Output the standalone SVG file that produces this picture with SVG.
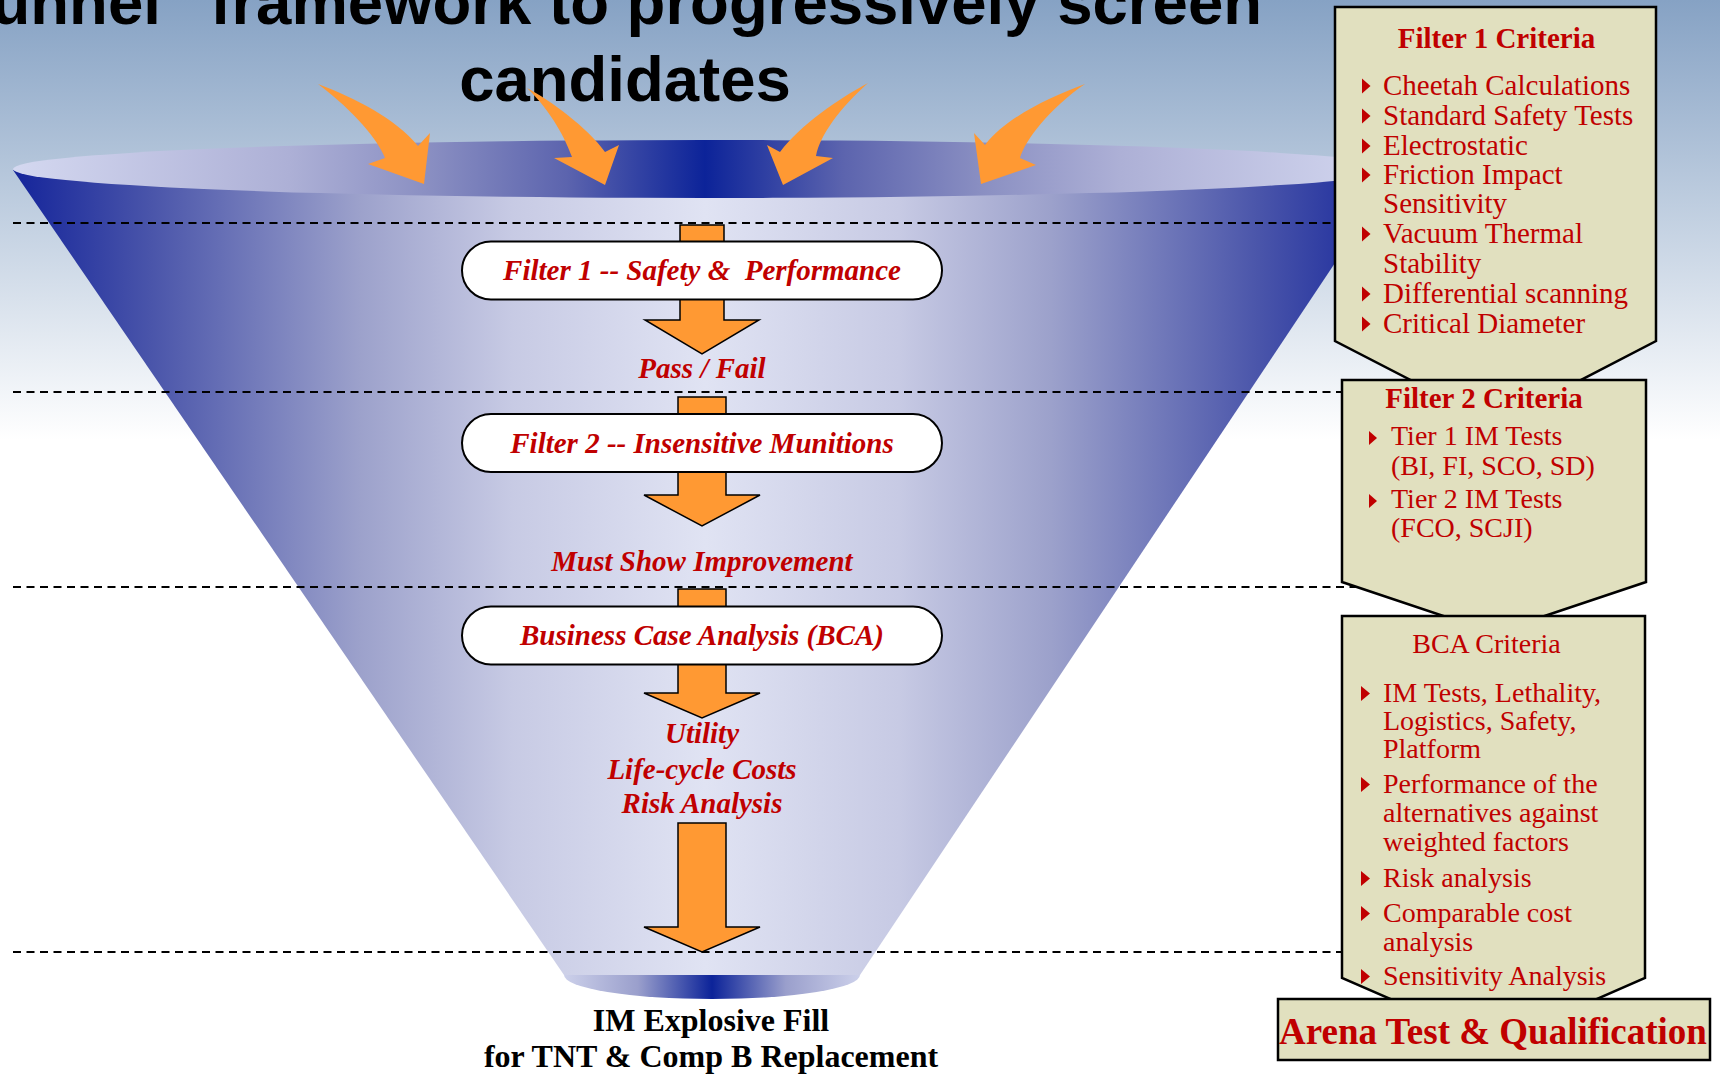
<svg xmlns="http://www.w3.org/2000/svg" width="1720" height="1077" viewBox="0 0 1720 1077">
<defs>
<linearGradient id="bg" x1="0" y1="0" x2="0" y2="440" gradientUnits="userSpaceOnUse">
<stop offset="0" stop-color="#86a2c4"/>
<stop offset="1" stop-color="#ffffff"/>
</linearGradient>
<linearGradient id="body" x1="13" y1="0" x2="1397" y2="0" gradientUnits="userSpaceOnUse">
<stop offset="0" stop-color="#14249a"/>
<stop offset="0.1" stop-color="#4a55aa"/>
<stop offset="0.25" stop-color="#9ca1cb"/>
<stop offset="0.36" stop-color="#c7cae4"/>
<stop offset="0.5" stop-color="#e0e3f3"/>
<stop offset="0.64" stop-color="#c7cae4"/>
<stop offset="0.75" stop-color="#9ca1cb"/>
<stop offset="0.9" stop-color="#4a55aa"/>
<stop offset="1" stop-color="#14249a"/>
</linearGradient>
<linearGradient id="rim" x1="13" y1="0" x2="1397" y2="0" gradientUnits="userSpaceOnUse">
<stop offset="0" stop-color="#d4d8f0"/>
<stop offset="0.2" stop-color="#adb0d6"/>
<stop offset="0.3" stop-color="#8a8fc2"/>
<stop offset="0.4" stop-color="#5c64ae"/>
<stop offset="0.5" stop-color="#0c2399"/>
<stop offset="0.6" stop-color="#5c64ae"/>
<stop offset="0.7" stop-color="#8a8fc2"/>
<stop offset="0.8" stop-color="#adb0d6"/>
<stop offset="1" stop-color="#d4d8f0"/>
</linearGradient>
<linearGradient id="base" x1="564" y1="0" x2="860" y2="0" gradientUnits="userSpaceOnUse">
<stop offset="0" stop-color="#ccd0ea"/>
<stop offset="0.25" stop-color="#9a9fcc"/>
<stop offset="0.5" stop-color="#0c2399"/>
<stop offset="0.75" stop-color="#9a9fcc"/>
<stop offset="1" stop-color="#ccd0ea"/>
</linearGradient>
<style>
.serif { font-family: "Liberation Serif", "Times New Roman", serif; }
.red { fill: #C00000; }
.bi { font-weight: bold; font-style: italic; font-size: 29px; }
.crit { font-size: 28px; }
.crit1 { font-size: 29px; }
.head { font-weight: bold; font-size: 29px; }
.box { fill: #E1E0BF; stroke: #000; stroke-width: 2.5; stroke-linejoin: miter; }
.pill { fill: #fff; stroke: #000; stroke-width: 2; }
.blk { fill: #FF9933; stroke: #000; stroke-width: 1.5; }
.curv { fill: #FF9933; }
.dash { stroke: #000; stroke-width: 2; stroke-dasharray: 8 5.5; fill: none; }
.bul { fill: #C00000; }
.title { font-family: "Liberation Sans", Arial, sans-serif; font-weight: bold; font-size: 63.5px; fill: #000; }
.out { font-family: "Liberation Serif", "Times New Roman", serif; font-weight: bold; font-size: 32px; fill: #000; }
</style>
</defs>

<rect x="0" y="0" width="1720" height="1077" fill="url(#bg)"/>

<g id="funnel">
<path d="M13,170 L564,975 L860,975 L1397,170 Z" fill="url(#body)"/>
<path d="M564,975 A148,24 0 0 0 860,975 Z" fill="url(#base)"/>
<ellipse cx="705" cy="169" rx="692" ry="29" fill="url(#rim)"/>
</g>

<g id="title">
<text class="title" x="1262" y="24" text-anchor="end">“Funnel” framework to progressively screen</text>
<text class="title" x="625" y="101" text-anchor="middle">candidates</text>
</g>

<g id="inputs">
<path class="curv" d="M318,84 C355,98 395,118 418,146 L430,133 L424,184 L368,164 L385,158 C378,140 355,112 318,84 Z"/>
<path class="curv" d="M527,88 C550,100 588,128 605,152 L619,145 L605,185 L554,158 L572,157 C566,140 552,112 527,88 Z"/>
<path class="curv" d="M868,83 C840,98 800,125 780,152 L767,145 L783,185 L833,158 L816,156 C820,135 840,108 868,83 Z"/>
<path class="curv" d="M1085,84 C1050,97 1005,118 985,145 L974,133 L981,184 L1036,165 L1020,158 C1025,140 1050,108 1085,84 Z"/>
</g>

<g id="stage-lines">
<line class="dash" x1="13" y1="223" x2="1400" y2="223"/>
<line class="dash" x1="13" y1="392" x2="1400" y2="392"/>
<line class="dash" x1="13" y1="587" x2="1400" y2="587"/>
<line class="dash" x1="13" y1="952" x2="1400" y2="952"/>
</g>

<g id="connectors">
<path class="blk" d="M680,225 L724,225 L724,320 L759,320 L702,354 L645,320 L680,320 Z"/>
<path class="blk" d="M678,397 L726,397 L726,495 L760,495 L702,526 L644,495 L678,495 Z"/>
<path class="blk" d="M678,589 L726,589 L726,693 L760,693 L702,718 L644,693 L678,693 Z"/>
<path class="blk" d="M678,823 L726,823 L726,927 L760,927 L702,952 L644,927 L678,927 Z"/>
</g>

<g id="filter1">
<rect class="pill" x="462" y="241.5" width="480" height="58" rx="29"/>
<text class="serif red bi" x="702" y="280" text-anchor="middle" xml:space="preserve">Filter 1 -- Safety &amp;  Performance</text>
</g>
<g id="passfail">
<text class="serif red bi" x="702" y="378" text-anchor="middle">Pass / Fail</text>
</g>
<g id="filter2">
<rect class="pill" x="462" y="414" width="480" height="58" rx="29"/>
<text class="serif red bi" x="702" y="453" text-anchor="middle">Filter 2 -- Insensitive Munitions</text>
</g>
<g id="improvement">
<text class="serif red bi" x="702" y="571" text-anchor="middle">Must Show Improvement</text>
</g>
<g id="bca">
<rect class="pill" x="462" y="606.5" width="480" height="58" rx="29"/>
<text class="serif red bi" x="702" y="645" text-anchor="middle">Business Case Analysis (BCA)</text>
</g>
<g id="bca-outputs">
<text class="serif red bi" x="702" y="743" text-anchor="middle">Utility</text>
<text class="serif red bi" x="702" y="779" text-anchor="middle">Life-cycle Costs</text>
<text class="serif red bi" x="702" y="813" text-anchor="middle">Risk Analysis</text>
</g>
<g id="result">
<text class="out" x="711" y="1031" text-anchor="middle">IM Explosive Fill</text>
<text class="out" x="711" y="1067" text-anchor="middle">for TNT &amp; Comp B Replacement</text>
</g>

<g id="filter1-criteria">
<path class="box" d="M1335,7 L1656,7 L1656,341 L1496,424 L1335,341 Z"/>
<text class="serif red head" x="1496.5" y="48" text-anchor="middle">Filter 1 Criteria</text>
<g class="bul">
<polygon points="1362,78.5 1370.5,86 1362,93.5"/>
<polygon points="1362,108.5 1370.5,116 1362,123.5"/>
<polygon points="1362,138.5 1370.5,146 1362,153.5"/>
<polygon points="1362,167.5 1370.5,175 1362,182.5"/>
<polygon points="1362,226.5 1370.5,234 1362,241.5"/>
<polygon points="1362,286.5 1370.5,294 1362,301.5"/>
<polygon points="1362,316.5 1370.5,324 1362,331.5"/>
</g>
<text class="serif red crit1" x="1383" y="95">Cheetah Calculations</text>
<text class="serif red crit1" x="1383" y="125">Standard Safety Tests</text>
<text class="serif red crit1" x="1383" y="155">Electrostatic</text>
<text class="serif red crit1" x="1383" y="184">Friction Impact</text>
<text class="serif red crit1" x="1383" y="213">Sensitivity</text>
<text class="serif red crit1" x="1383" y="243">Vacuum Thermal</text>
<text class="serif red crit1" x="1383" y="273">Stability</text>
<text class="serif red crit1" x="1383" y="303">Differential scanning</text>
<text class="serif red crit1" x="1383" y="333">Critical Diameter</text>
</g>

<g id="filter2-criteria">
<path class="box" d="M1342,380 L1646,380 L1646,582 L1494,633 L1342,582 Z"/>
<text class="serif red head" x="1484" y="408" text-anchor="middle">Filter 2 Criteria</text>
<g class="bul">
<polygon points="1369,431 1377,438 1369,445"/>
<polygon points="1369,494 1377,501 1369,508"/>
</g>
<text class="serif red crit" x="1391" y="445">Tier 1 IM Tests</text>
<text class="serif red crit" x="1391" y="475">(BI, FI, SCO, SD)</text>
<text class="serif red crit" x="1391" y="508">Tier 2 IM Tests</text>
<text class="serif red crit" x="1391" y="537">(FCO, SCJI)</text>
</g>

<g id="bca-criteria">
<path class="box" d="M1342,616 L1645,616 L1645,978 L1494,1044 L1342,978 Z"/>
<text class="serif red crit" x="1486.5" y="653" text-anchor="middle">BCA Criteria</text>
<g class="bul">
<polygon points="1361,686 1370,693.5 1361,701"/>
<polygon points="1361,777 1370,784.5 1361,792"/>
<polygon points="1361,871 1370,878.5 1361,886"/>
<polygon points="1361,906 1370,913.5 1361,921"/>
<polygon points="1361,969 1370,976.5 1361,984"/>
</g>
<text class="serif red crit" x="1383" y="702">IM Tests, Lethality,</text>
<text class="serif red crit" x="1383" y="730">Logistics, Safety,</text>
<text class="serif red crit" x="1383" y="758">Platform</text>
<text class="serif red crit" x="1383" y="793">Performance of the</text>
<text class="serif red crit" x="1383" y="822">alternatives against</text>
<text class="serif red crit" x="1383" y="851">weighted factors</text>
<text class="serif red crit" x="1383" y="887">Risk analysis</text>
<text class="serif red crit" x="1383" y="922">Comparable cost</text>
<text class="serif red crit" x="1383" y="951">analysis</text>
<text class="serif red crit" x="1383" y="985">Sensitivity Analysis</text>
</g>

<g id="arena">
<rect class="box" x="1278" y="999" width="432" height="61"/>
<text class="serif red" x="1493" y="1044" text-anchor="middle" font-weight="bold" font-size="37">Arena Test &amp; Qualification</text>
</g>
</svg>
